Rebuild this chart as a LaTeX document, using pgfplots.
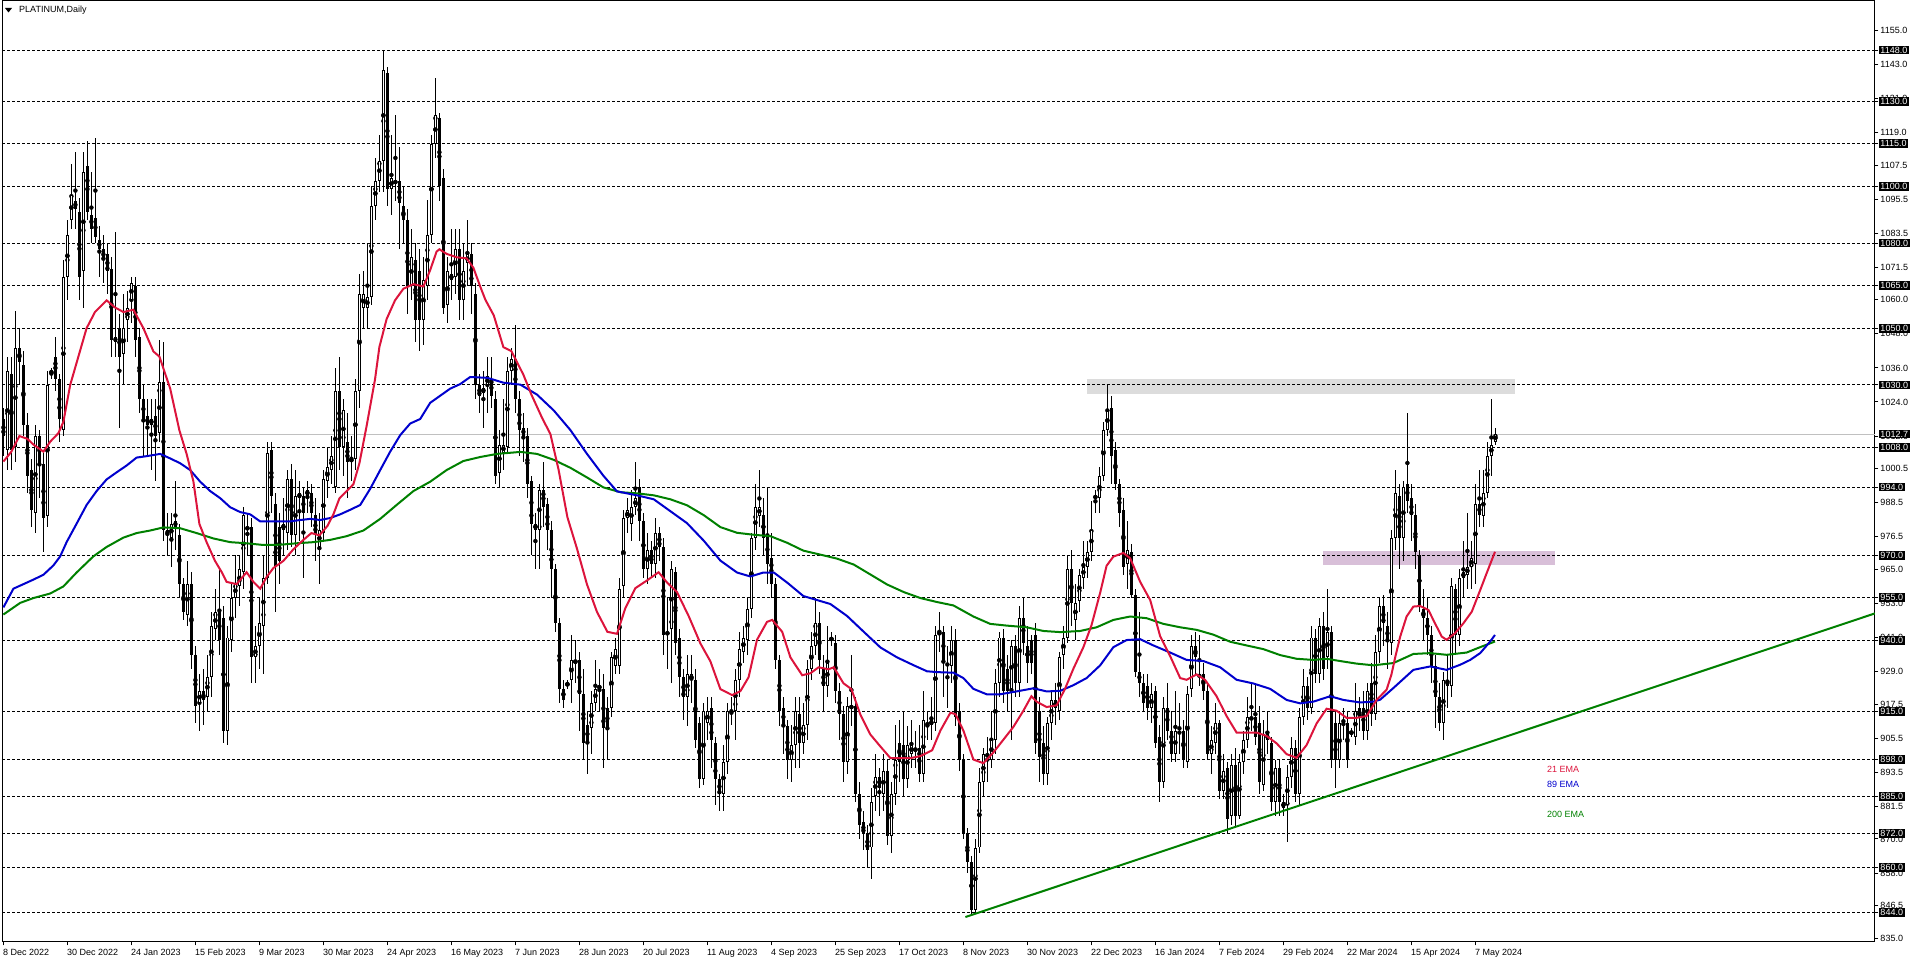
\documentclass[border=0pt]{standalone}
\usepackage{pgfplots}
\pgfplotsset{compat=1.18}
\usepackage{pgfplotstable}
\usepackage{fontspec}
\setmainfont{Liberation Sans}
\definecolor{emared}{RGB}{220,20,60}
\definecolor{emablue}{RGB}{0,0,205}
\definecolor{emagreen}{RGB}{0,128,0}
\definecolor{zonegray}{RGB}{220,220,220}
\definecolor{zonepink}{RGB}{216,191,216}
\definecolor{bidgray}{RGB}{192,192,192}

\pgfplotstableread{
i o h l c
0 1018 1022 1005 1012
1 1007 1040 1000 1035
2 1034 1040 1000 1007
3 1008 1056 1003 1043
4 1043 1050 1030 1038
5 1037 1042 1012 1016
6 1016 1020 992 998
7 1000 1004 980 986
8 985 1016 978 1012
9 1012 1014 990 1002
10 1002 1006 971 983
11 984 1035 980 1030
12 1034 1036 1032 1035
13 1040 1047 1028 1032
14 1032 1034 1010 1018
15 1014 1074 1012 1068
16 1068 1088 1060 1083
17 1088 1108 1085 1097
18 1095 1112 1085 1092
19 1091 1096 1060 1068
20 1070 1112 1057 1105
21 1107 1116 1088 1091
22 1090 1105 1080 1085
23 1089 1117 1080 1082
24 1081 1086 1068 1078
25 1078 1083 1066 1074
26 1076 1080 1062 1070
27 1071 1075 1040 1046
28 1047 1084 1040 1045
29 1050 1055 1015 1040
30 1041 1062 1030 1050
31 1053 1063 1045 1057
32 1060 1068 1052 1066
33 1065 1068 1040 1046
34 1047 1050 1020 1025
35 1025 1030 1005 1018
36 1019 1025 1005 1016
37 1016 1025 1000 1018
38 1019 1025 996 1012
39 1013 1046 1010 1031
40 1031 1045 975 979
41 979 985 970 977
42 976 985 966 981
43 982 996 972 980
44 977 981 955 960
45 960 962 947 950
46 949 968 945 960
47 960 964 930 935
48 935 938 911 917
49 918 928 908 922
50 922 930 910 919
51 920 935 915 927
52 927 950 920 945
53 944 958 940 950
54 950 966 935 940
55 948 952 904 908
56 908 945 903 941
57 940 960 936 955
58 955 970 948 960
59 959 970 952 965
60 964 987 958 984
61 979 985 970 980
62 980 983 925 934
63 934 945 925 938
64 938 955 930 946
65 945 970 928 962
66 962 1010 960 1006
67 1007 1010 985 991
68 988 992 950 966
69 980 985 960 968
70 979 990 970 981
71 978 1000 972 997
72 997 1002 973 977
73 977 1000 970 991
74 990 996 975 992
75 991 994 962 985
76 991 996 985 993
77 992 995 980 985
78 984 990 968 977
79 973 985 960 979
80 978 1000 975 997
81 996 1008 990 1001
82 1000 1012 995 1005
83 994 1036 992 1028
84 1028 1040 1000 1008
85 1008 1025 998 1021
86 1010 1020 990 1003
87 1003 1012 996 1004
88 1004 1032 1000 1028
89 1028 1069 1022 1062
90 1057 1070 1050 1062
91 1057 1080 1050 1061
92 1061 1100 1058 1093
93 1093 1110 1088 1102
94 1102 1118 1098 1109
95 1109 1148 1098 1141
96 1140 1142 1093 1099
97 1099 1118 1090 1103
98 1101 1125 1095 1102
99 1102 1114 1078 1094
100 1093 1100 1080 1088
101 1088 1092 1055 1065
102 1065 1085 1060 1075
103 1074 1080 1045 1053
104 1070 1078 1042 1053
105 1053 1075 1044 1067
106 1065 1095 1060 1083
107 1083 1118 1080 1115
108 1115 1138 1110 1125
109 1124 1126 1095 1100
110 1103 1106 1055 1057
111 1058 1075 1052 1070
112 1067 1085 1060 1069
113 1068 1085 1062 1078
114 1078 1085 1053 1060
115 1060 1080 1053 1070
116 1073 1088 1065 1076
117 1076 1080 1055 1065
118 1062 1066 1025 1030
119 1030 1034 1020 1026
120 1027 1035 1015 1029
121 1030 1040 1020 1033
122 1032 1040 1022 1026
123 1025 1028 995 998
124 999 1014 994 1009
125 1006 1025 1000 1009
126 1008 1040 1006 1035
127 1035 1043 1030 1039
128 1039 1051 1020 1025
129 1025 1028 1005 1014
130 1015 1020 1003 1012
131 1012 1015 990 995
132 996 998 970 981
133 979 985 965 981
134 979 995 965 993
135 993 1003 980 987
136 988 990 972 979
137 979 982 955 965
138 965 967 943 946
139 946 948 918 923
140 923 926 916 919
141 924 926 923 925
142 926 942 918 933
143 932 940 925 933
144 933 936 908 921
145 921 930 898 904
146 910 915 893 904
147 909 922 900 918
148 918 933 915 923
149 923 930 915 924
150 923 928 895 909
151 916 920 898 909
152 916 936 913 934
153 931 941 928 937
154 931 962 928 958
155 959 986 955 983
156 983 990 978 986
157 981 993 975 987
158 987 1003 984 990
159 994 997 975 982
160 982 985 962 965
161 965 978 960 972
162 972 975 962 967
163 967 983 962 978
164 978 980 968 973
165 973 976 935 942
166 943 955 930 942
167 944 968 925 965
168 964 966 935 939
169 941 944 920 927
170 927 930 912 920
171 920 935 910 928
172 926 935 918 928
173 926 930 902 905
174 911 913 888 891
175 891 918 889 915
176 911 920 905 915
177 916 920 895 905
178 904 906 882 891
179 891 893 880 886
180 886 903 880 897
181 897 918 893 915
182 915 920 910 914
183 915 930 905 926
184 926 943 920 937
185 936 945 932 941
186 940 955 935 951
187 951 978 948 976
188 976 995 972 987
189 984 1000 980 987
190 984 990 970 976
191 977 994 960 967
192 969 978 955 960
193 960 962 930 933
194 933 935 910 915
195 916 920 900 910
196 910 912 891 898
197 898 910 890 903
198 903 920 895 915
199 914 920 895 904
200 904 918 900 910
201 910 933 905 930
202 930 943 926 938
203 938 955 935 946
204 946 950 928 933
205 930 935 915 924
206 924 945 920 932
207 940 943 938 941
208 939 942 918 922
209 922 925 905 914
210 914 917 890 897
211 897 920 893 917
212 916 935 910 917
213 917 920 883 886
214 886 890 870 875
215 876 880 866 872
216 872 875 860 866
217 867 888 856 883
218 885 900 880 892
219 892 895 878 888
220 886 900 880 894
221 894 898 868 871
222 871 890 865 886
223 886 910 882 898
224 904 912 890 897
225 903 915 885 891
226 891 910 888 903
227 900 912 895 903
228 901 908 895 902
229 902 910 890 893
230 893 922 890 912
231 911 915 905 910
232 910 920 905 912
233 911 945 908 942
234 942 950 936 943
235 943 945 920 933
236 932 938 916 931
237 931 945 925 940
238 940 944 910 913
239 915 918 894 898
240 898 900 870 872
241 872 874 858 862
242 862 864 843 845
243 845 870 844 867
244 867 895 865 890
245 890 902 885 900
246 899 906 890 900
247 898 915 895 905
248 905 930 900 925
249 925 943 920 941
250 941 944 918 922
251 930 935 915 922
252 923 940 905 938
253 938 942 920 925
254 925 952 920 948
255 948 955 935 939
256 938 945 925 932
257 940 942 928 932
258 942 946 900 904
259 915 920 890 899
260 904 910 889 893
261 893 913 889 911
262 911 922 905 919
263 919 925 910 916
264 915 936 912 934
265 935 945 930 941
266 941 970 939 965
267 965 972 945 953
268 947 960 940 953
269 954 965 950 963
270 962 975 958 966
271 966 975 962 971
272 971 989 968 979
273 990 993 985 991
274 990 1001 985 998
275 998 1017 996 1014
276 1014 1030 1012 1021
277 1022 1026 995 1005
278 1007 1010 993 995
279 995 997 980 985
280 986 990 963 966
281 967 982 958 972
282 971 974 955 956
283 956 958 927 929
284 929 950 920 925
285 925 928 915 918
286 924 928 912 916
287 916 925 911 921
288 922 924 902 904
289 906 910 883 890
290 890 920 888 916
291 916 925 905 908
292 908 915 897 900
293 900 922 897 908
294 908 918 900 907
295 908 912 895 898
296 897 924 895 921
297 923 942 920 938
298 938 943 928 934
299 928 942 924 927
300 928 932 919 922
301 922 925 898 900
302 900 910 893 905
303 904 918 900 911
304 911 912 884 887
305 887 900 884 894
306 895 897 872 877
307 878 900 875 896
308 896 902 874 878
309 878 900 877 897
310 897 908 893 905
311 905 920 902 913
312 912 925 908 913
313 913 925 903 906
314 911 917 886 890
315 889 912 887 907
316 907 915 900 905
317 904 906 880 883
318 883 898 878 895
319 895 898 878 883
320 883 886 878 881
321 882 896 869 892
322 892 906 888 902
323 902 905 883 886
324 886 916 882 913
325 913 930 910 924
326 924 927 912 916
327 916 945 914 941
328 941 944 925 928
329 928 948 925 945
330 945 950 926 930
331 934 958 930 943
332 943 945 895 898
333 911 915 888 898
334 898 915 895 911
335 912 916 905 911
336 911 915 895 898
337 907 909 906 908
338 906 925 903 915
339 916 920 908 913
340 916 922 905 908
341 908 925 905 922
342 925 932 910 914
343 914 942 912 936
344 936 955 932 952
345 952 956 938 946
346 945 950 930 940
347 939 979 935 976
348 976 1000 972 992
349 991 995 965 976
350 976 996 968 994
351 995 1020 985 989
352 990 995 975 984
353 984 988 965 971
354 970 972 950 952
355 951 958 940 948
356 948 955 935 942
357 942 945 925 931
358 931 935 909 920
359 920 925 908 911
360 911 929 905 926
361 926 935 916 924
362 924 962 920 959
363 958 960 935 942
364 942 965 938 962
365 962 975 955 964
366 963 985 958 966
367 966 975 958 969
368 967 995 960 988
369 988 1000 980 984
370 984 1000 980 992
371 992 1010 990 1005
372 1005 1025 998 1009
373 1010 1015 1009 1012.7
}\candles

\begin{document}
\begin{tikzpicture}[x=1pt,y=1pt]
\begin{axis}[
  at={(2pt,21pt)}, anchor=south west,
  scale only axis, width=1873pt, height=941pt,
  xmin=-0.35, xmax=467.9, ymin=833.7, ymax=1165.3,
  set layers=standard,
  clip mode=individual,
  axis line style={black, line width=1pt},
  tick align=outside,
  major tick length=3.5pt,
  tick style={black, line width=1pt},
  xtick pos=bottom, ytick pos=right,
  yticklabel pos=right,
  xtick={0,16,...,368},
  xticklabels={8 Dec 2022,30 Dec 2022,24 Jan 2023,15 Feb 2023,9 Mar 2023,30 Mar 2023,24 Apr 2023,16 May 2023,7 Jun 2023,28 Jun 2023,20 Jul 2023,11 Aug 2023,4 Sep 2023,25 Sep 2023,17 Oct 2023,8 Nov 2023,30 Nov 2023,22 Dec 2023,16 Jan 2024,7 Feb 2024,29 Feb 2024,22 Mar 2024,15 Apr 2024,7 May 2024},
  ytick={835,846.5,858,870,881.5,893.5,905.5,917.5,929,941,953,965,976.5,988.5,1000.5,1012,1024,1036,1048,1060,1071.5,1083.5,1095.5,1107.5,1119,1131,1143,1155},
  extra y ticks={844,860,872,885,898,915,940,955,970,994,1008,1030,1050,1065,1080,1100,1115,1130,1148},
  extra y tick style={grid=major, yticklabel style={fill=black, text=white}},
  major grid style={black, line width=1pt, dash pattern=on 3pt off 2pt},
  /pgf/number format/.cd, fixed, fixed zerofill, precision=1, 1000 sep={}, assume math mode=true,
  /pgfplots/.cd,
  ticklabel style={font=\fontsize{9}{10}\selectfont},
  xticklabel style={anchor=north west, inner sep=0pt, xshift=-0.5pt, yshift=-3.3pt},
  yticklabel style={anchor=west, inner xsep=1.8pt, inner ysep=1.2pt},
]
% zones
\addplot[on layer=axis background, fill=zonegray, draw=none] coordinates {(270.8,1026.8) (377.9,1026.8) (377.9,1032.2) (270.8,1032.2)} -- cycle;
\addplot[on layer=axis background, fill=zonepink, draw=none] coordinates {(329.8,966.7) (387.9,966.7) (387.9,971.5) (329.8,971.5)} -- cycle;
% bid line
\addplot[bidgray, line width=1pt] coordinates {(-0.35,1012.7) (467.9,1012.7)};
% wicks
\addplot[only marks, mark=none, error bars/.cd, y dir=both, y explicit, error mark=none, error bar style={draw=black, line width=1pt, solid}]
  table[x=i, y expr={(\thisrow{h}+\thisrow{l})/2}, y error expr={(\thisrow{h}-\thisrow{l})/2}] {\candles};
% bodies (black outline / filled)
\addplot[only marks, mark=none, error bars/.cd, y dir=both, y explicit, error mark=none, error bar style={draw=black, line width=3pt, solid}]
  table[x=i, y expr={(\thisrow{o}+\thisrow{c})/2}, y error expr={max(abs(\thisrow{c}-\thisrow{o})/2,0.25)}] {\candles};
% hollow bullish bodies
\addplot[only marks, mark=none, error bars/.cd, y dir=both, y explicit, error mark=none, error bar style={draw=white, line width=1pt, solid}]
  table[x=i, y expr={\thisrow{c}-\thisrow{o}>0.8 ? (\thisrow{o}+\thisrow{c})/2 : nan}, y error expr={abs(\thisrow{c}-\thisrow{o})/2-0.35}] {\candles};
% 200 EMA
\addplot[emagreen, line width=2pt] coordinates {(0,949.1) (4.2,953.2) (7.5,954.9) (11.7,956.5) (15,959) (18.3,963.9) (22.5,969.6) (25.8,972.9) (30,976.2) (33.3,977.8) (36.7,978.7) (40,979.8) (44.2,979.5) (48.3,977.8) (52.5,975.9) (56.7,974.6) (60.8,974.2) (65,973.6) (69.2,973.7) (73.3,974.2) (77.5,974.6) (81.7,975.4) (85.8,976.7) (90,978.7) (94.2,982.8) (98.3,987.7) (102.5,992.6) (106.7,995.9) (110.8,1000) (115,1003.2) (119.2,1004.6) (123.4,1005.7) (129.25,1006.4) (133.4,1005.7) (137.6,1003.6) (141.75,1000.8) (145.9,997.4) (150,993.9) (154.25,992.2) (158.4,991.8) (162.6,991.1) (166.75,989.7) (170.9,987.6) (175.1,984.1) (179.25,979.9) (183.4,977.9) (187.6,977.2) (191.75,976.7) (195.9,974.4) (200,971.6) (204.25,970.2) (208.4,968.8) (212.6,966.7) (216.75,963.2) (220.9,959.7) (225.1,957) (229.25,954.9) (233.4,953.5) (237.5,952.3) (242.5,948.4) (246.7,945.8) (250.8,945.2) (255.8,944.6) (260,943.3) (264.2,942.9) (269.2,943.3) (273.3,944.6) (277.5,947.2) (281.7,948.4) (285.8,947.8) (290,945.8) (294.2,944.6) (298.3,943.7) (302.5,942) (306.7,939.5) (310.8,938.2) (315,936.9) (319.2,934.8) (323.3,933.5) (327.5,933.1) (330.8,933.5) (334.2,932.7) (338.3,931.8) (342.5,931.2) (347.5,932) (352.5,935.2) (356.7,935.5) (360.8,934.9) (365.8,935.7) (369.2,937.6) (372.9,939.6)};
% 89 EMA
\addplot[emablue, line width=2pt] coordinates {(0,951.6) (2.5,958.2) (5,959.8) (7.5,961.4) (10,963.1) (12.5,966.4) (14.2,969.6) (15.8,974.6) (18.3,981.1) (20.8,987.7) (23.3,992.6) (25.8,996.7) (28.3,999.2) (30.8,1001.6) (33.3,1004.4) (35.8,1004.9) (39.2,1005.7) (41.7,1004.1) (44.2,1002.4) (46.7,1000) (49.2,995.9) (51.7,992.6) (54.2,990.1) (56.7,986.9) (59.2,985.2) (61.7,984.4) (64.2,981.9) (66.7,981.9) (69.2,981.9) (71.7,981.9) (74.2,982.4) (76.7,982.8) (79.2,982.4) (81.7,983.1) (84.2,984.4) (86.7,986) (89.2,987.7) (91.7,993.4) (94.2,1000) (96.7,1006.5) (99.2,1012.3) (101.7,1016.4) (104.2,1018) (106.7,1023.7) (109.2,1026.2) (111.7,1028.7) (114.2,1030.3) (116.7,1032.8) (121,1032.5) (125,1030.8) (129.25,1030.1) (133.4,1026.6) (137.6,1021) (141.75,1014.1) (145.9,1005.7) (150,998) (153.4,992.5) (158.4,991.1) (162.6,989.7) (166.75,985.5) (170.9,981.3) (175.1,975.1) (179.25,968.1) (183.4,963.9) (186.75,962.5) (190,963.9) (192.6,963.9) (195.9,960.4) (200,955.6) (203.4,954.2) (206.75,952.8) (210.9,948.6) (215.1,943) (219.25,937.5) (223.4,934) (227.6,931.2) (230.9,929.1) (233.4,928.8) (237.5,928.6) (240,926.7) (242.5,922.9) (245.8,921) (249.2,921) (253.3,922) (257.5,923.1) (260.8,922) (264.2,922.2) (267.5,924.2) (270.8,926.7) (274.2,931.2) (277.5,937.6) (280.8,940.1) (284.2,940.4) (287.5,938.2) (291.7,935.7) (295.8,933.1) (300,932.7) (304.2,930.5) (308.3,926.1) (312.5,924.8) (316.7,922.9) (320.8,919) (324.2,917.8) (327.5,918.4) (331.7,920.3) (335,919) (339.2,918.1) (342.5,918.4) (344.2,919.1) (347.5,923.2) (352.5,929.6) (356.7,930.8) (360.8,929.6) (364.2,931.4) (366.7,933.1) (369.2,935.5) (371.7,939.6) (372.9,941.9)};
% 21 EMA
\addplot[emared, line width=2pt] coordinates {(0,1003) (2,1006.5) (4,1012) (6,1011) (7.5,1009) (10,1006.5) (11.7,1010) (13.75,1013) (15,1017) (16.7,1030) (18.75,1040) (20.8,1050) (22.9,1055.7) (25.8,1059.8) (27.9,1057.3) (30,1055.7) (32.5,1056.5) (35,1050) (37.5,1041.8) (39,1040) (41.7,1028.7) (44,1014) (45.8,1005.7) (47.5,996) (49,981) (50.8,974.6) (52.9,968) (54.6,964) (55.8,960.6) (58.3,959.8) (60.8,964) (62.5,960.6) (64.2,958.2) (65.8,962.3) (67.5,965.5) (70,968) (72.5,972.1) (75,975.4) (77,977.8) (79,977) (81,980.3) (82.5,984.4) (84,990) (85.8,992.6) (87.5,995) (89,1002.4) (90.8,1015.5) (92.9,1031.9) (94,1043.4) (95.8,1053.2) (97.9,1059.8) (100,1063.9) (102.5,1065.5) (105,1064.7) (106.7,1070.5) (108.3,1077) (109,1077.8) (110.8,1076.2) (113.3,1075) (115.8,1074.6) (117.5,1071.3) (119.2,1064.7) (120.5,1060) (122.6,1054.5) (125,1043.3) (127,1041.9) (130,1033.6) (132,1026.6) (134.7,1018.3) (136.75,1012.7) (138.8,1000.1) (141,983.4) (143.4,972.3) (145.9,959.7) (148.4,950) (151,943) (153.4,942.3) (155.5,951.4) (158,958.4) (160.9,961.1) (163.8,964) (165.9,960.4) (168.4,957) (171.3,948.6) (174.25,938.9) (176.75,932.6) (179.25,922.8) (182.2,920.7) (184.25,922.1) (186.3,927) (188.4,940.2) (190.9,946.5) (192.2,947.2) (194.7,943) (196.75,934) (199.7,927.7) (201.75,928.4) (203.8,930.5) (206.3,929.8) (207.6,930.5) (210,924.9) (212,922.8) (214.25,913.8) (216.75,906.8) (219.25,902.6) (221.75,898.5) (224.25,898.5) (226.75,898.5) (229.25,899.2) (232.2,901.3) (234.25,908.2) (236.75,914.5) (238,914) (240,908.2) (242.5,898) (245,896.7) (247.5,900.5) (250,905) (252.5,909.5) (255,915.2) (257,920.3) (258.3,918.4) (260.8,916.5) (263.3,917.1) (265.4,922.9) (267.5,930) (270,937.6) (272,945.2) (274.2,956.8) (275.8,966.3) (277.5,969.5) (280,970.8) (281.7,968.9) (284.2,960.6) (286.7,954.2) (289.2,941.4) (291.7,934.4) (294.2,926.7) (295.8,926.1) (298.3,928) (300.4,926.1) (303.3,920.3) (305.8,913.3) (308.3,907.5) (310.8,907.5) (313.3,907.5) (315.8,906.3) (318.3,903.7) (320.8,899.9) (323.3,898.6) (325.8,903.1) (328.3,910.7) (330.8,915.9) (333.3,915.2) (335.8,912.7) (338.3,912.7) (340.8,913.3) (343.3,919) (345.8,922.6) (347,927.9) (348,934.3) (349.2,941.3) (350.8,948.4) (352.5,951.9) (354.2,952.1) (356.25,950.7) (357.9,946) (359.6,941.3) (360.8,940.2) (362.9,942.5) (365,946) (367.1,950.1) (369.2,957.7) (370.8,963.6) (372.9,971.2)};
% trend line
\addplot[emagreen, line width=2pt] coordinates {(240.5,842.5) (467.9,949.5)};
% labels
\node[anchor=west, text=emared, font=\fontsize{9}{10}\selectfont, inner sep=0pt] at (axis cs:385.9,894.7) {21 EMA};
\node[anchor=west, text=emablue, font=\fontsize{9}{10}\selectfont, inner sep=0pt] at (axis cs:385.9,889.4) {89 EMA};
\node[anchor=west, text=emagreen, font=\fontsize{9}{10}\selectfont, inner sep=0pt] at (axis cs:385.9,878.8) {200 EMA};
\node[anchor=west, fill=black, text=white, font=\fontsize{9}{10}\selectfont, inner xsep=1.8pt, inner ysep=1.2pt, xshift=3.5pt] at (axis cs:467.9,1012.7) {1012.7};
\end{axis}
\fill[black] (5pt,955pt) -- (12pt,955pt) -- (8.5pt,950.5pt) -- cycle;
\node[anchor=west, inner sep=0pt, font=\fontsize{9}{10}\selectfont] at (19pt,952.5pt) {PLATINUM,Daily};
\pgfresetboundingbox
\useasboundingbox (0,0) rectangle (1916pt,963pt);
\end{tikzpicture}
\end{document}
